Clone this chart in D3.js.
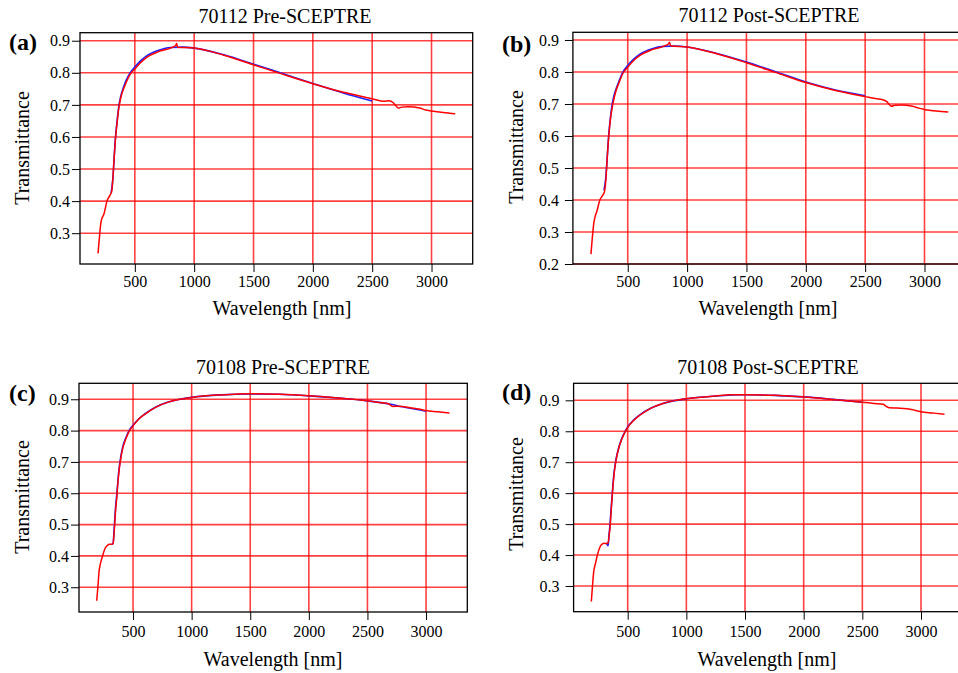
<!DOCTYPE html>
<html>
<head>
<meta charset="utf-8">
<script src="https://cdn.jsdelivr.net/npm/d3@7"></script>
<style>
body { margin: 0; background: #fff; }
svg text { font-family: "Liberation Serif", "Times New Roman", serif; fill: #000; }
</style>
</head>
<body>
<div id="fig"></div>
<script>
// ---- data ----
var xTicks = [500, 1000, 1500, 2000, 2500, 3000];
var yTicks37 = [0.3, 0.4, 0.5, 0.6, 0.7, 0.8, 0.9];
var yTicks27 = [0.2, 0.3, 0.4, 0.5, 0.6, 0.7, 0.8, 0.9];
var titles = ["70112 Pre-SCEPTRE", "70112 Post-SCEPTRE", "70108 Pre-SCEPTRE", "70108 Post-SCEPTRE"];
var letters = ["(a)", "(b)", "(c)", "(d)"];

// 70112 (a, b): red = full range, blue = up to 2500 nm
var wlRed70112 = [190,200,215,225,240,265,290,305,315,325,335,345,355,365,380,400,425,460,500,550,600,700,800,845,852,860,1000,1250,1500,1750,2000,2250,2500,2600,2640,2680,2700,2720,2750,2800,2900,2950,3000,3100,3200];
var redA = [0.237,0.28,0.335,0.348,0.36,0.40,0.418,0.43,0.47,0.53,0.585,0.625,0.66,0.69,0.72,0.745,0.768,0.795,0.812,0.832,0.848,0.866,0.877,0.886,0.891,0.880,0.877,0.855,0.825,0.795,0.766,0.740,0.719,0.711,0.713,0.706,0.697,0.690,0.693,0.694,0.690,0.684,0.681,0.676,0.672];
var redB = [0.231,0.275,0.33,0.348,0.365,0.40,0.415,0.428,0.46,0.52,0.575,0.62,0.655,0.68,0.71,0.74,0.765,0.796,0.815,0.836,0.851,0.869,0.880,0.888,0.893,0.882,0.878,0.857,0.829,0.798,0.767,0.742,0.723,0.716,0.714,0.708,0.700,0.693,0.696,0.697,0.693,0.687,0.683,0.678,0.675];
var wlBlue70112 = [300,315,325,335,345,355,365,380,400,425,460,500,550,600,700,800,900,1000,1250,1500,1750,2000,2250,2500];
var blueA = [0.425,0.47,0.53,0.59,0.63,0.665,0.695,0.725,0.75,0.775,0.80,0.818,0.838,0.853,0.870,0.879,0.880,0.877,0.856,0.827,0.797,0.767,0.738,0.712];
var blueB = [0.43,0.47,0.52,0.58,0.625,0.66,0.69,0.72,0.745,0.77,0.80,0.82,0.84,0.855,0.872,0.880,0.881,0.878,0.858,0.831,0.800,0.769,0.744,0.726];

// 70108 (c, d)
var wlRedC = [190,200,210,220,240,260,280,300,320,330,338,345,352,360,370,380,395,410,440,470,500,550,600,700,800,900,1000,1250,1500,1750,2000,2250,2500,2600,2680,2700,2720,2750,2800,2900,2950,3000,3100,3200];
var redC = [0.257,0.30,0.35,0.372,0.40,0.423,0.433,0.437,0.437,0.44,0.47,0.51,0.55,0.58,0.63,0.67,0.71,0.74,0.775,0.80,0.815,0.837,0.852,0.876,0.891,0.900,0.906,0.914,0.918,0.916,0.911,0.904,0.895,0.890,0.886,0.880,0.877,0.878,0.877,0.871,0.868,0.864,0.860,0.856];
var wlBlueC = [320,330,338,345,352,360,370,380,395,410,440,470,500,550,600,700,800,900,1000,1250,1500,1750,2000,2250,2500,2600,2700,2800,2900,3000];
var blueC = [0.437,0.44,0.48,0.52,0.56,0.59,0.635,0.675,0.715,0.745,0.778,0.802,0.817,0.838,0.853,0.876,0.891,0.900,0.906,0.914,0.917,0.916,0.911,0.904,0.895,0.890,0.884,0.876,0.869,0.862];
var wlRedD = [190,200,210,225,245,265,285,300,320,333,342,350,357,365,375,385,400,420,450,480,500,550,600,700,800,900,1000,1250,1375,1500,1750,2000,2250,2500,2600,2680,2700,2730,2800,2880,2920,3000,3100,3200];
var redD = [0.25,0.30,0.345,0.372,0.405,0.427,0.436,0.438,0.437,0.44,0.465,0.49,0.53,0.575,0.625,0.665,0.705,0.74,0.775,0.80,0.812,0.835,0.851,0.875,0.890,0.899,0.905,0.914,0.918,0.918,0.916,0.911,0.903,0.894,0.890,0.887,0.881,0.876,0.875,0.873,0.870,0.863,0.859,0.855];
var wlBlueD = [320,328,333,342,350,357,365,375,385,400,420,450,480,500,550,600,700,800,900,1000,1250,1500,1750,2000,2250,2500];
var blueD = [0.44,0.432,0.43,0.47,0.50,0.54,0.58,0.63,0.67,0.708,0.742,0.777,0.801,0.814,0.836,0.852,0.875,0.890,0.899,0.905,0.914,0.918,0.916,0.911,0.903,0.894];

// ---- layout per panel ----
var panels = [
  {red: [wlRed70112, redA], blue: [wlBlue70112, blueA], yTicks: yTicks37,
   box: [80, 472.7, 32.7, 264], xDom: [38, 3347], yDom: [0.204, 0.925],
   title: [285, 23], letter: [9, 50], ylab: [29, 148], xlab: [282, 315], yPad: 2, xPad: 4},
  {red: [wlRed70112, redB], blue: [wlBlue70112, blueB], yTicks: yTicks27,
   box: [572.9, 965.7, 32.3, 264], xDom: [38, 3347], yDom: [0.2, 0.924],
   title: [769, 22], letter: [502, 52], ylab: [523, 147], xlab: [768, 315], yPad: 6, xPad: 4},
  {red: [wlRedC, redC], blue: [wlBlueC, blueC], yTicks: yTicks37,
   box: [79, 467.3, 383.3, 612], xDom: [39, 3352], yDom: [0.221, 0.951],
   title: [283, 374], letter: [9, 401], ylab: [29, 497], xlab: [273, 666], yPad: 2, xPad: 6},
  {red: [wlRedD, redD], blue: [wlBlueD, blueD], yTicks: yTicks37,
   box: [573.6, 962.3, 383.3, 611.7], xDom: [39, 3352], yDom: [0.217, 0.955],
   title: [768, 374], letter: [502, 400], ylab: [523, 494], xlab: [767, 666], yPad: 6, xPad: 6}
];

var svg = d3.select("#fig").append("svg")
    .attr("width", 958)
    .attr("height", 673);

panels.forEach(function(p, k) {
  var left = p.box[0], right = p.box[1], top = p.box[2], bottom = p.box[3];
  var x = d3.scaleLinear().domain(p.xDom).range([left, right]);
  var y = d3.scaleLinear().domain(p.yDom).range([bottom, top]);
  var g = svg.append("g");

  // red grid
  g.selectAll(".vg").data(xTicks).enter().append("line")
    .attr("x1", d => x(d)).attr("x2", d => x(d))
    .attr("y1", top).attr("y2", bottom)
    .attr("stroke", "red").attr("stroke-opacity", 0.75).attr("stroke-width", 1.6);
  g.selectAll(".hg").data(p.yTicks).enter().append("line")
    .attr("x1", left).attr("x2", right)
    .attr("y1", d => y(d)).attr("y2", d => y(d))
    .attr("stroke", "red").attr("stroke-opacity", 0.75).attr("stroke-width", 1.6);

  var line = d3.line().x(d => x(d[0])).y(d => y(d[1])).curve(d3.curveMonotoneX);

  g.append("path").datum(d3.zip(p.blue[0], p.blue[1]))
    .attr("d", line).attr("fill", "none")
    .attr("stroke", "#2020ff").attr("stroke-width", 1.6);
  g.append("path").datum(d3.zip(p.red[0], p.red[1]))
    .attr("d", line).attr("fill", "none")
    .attr("stroke", "#ff0000").attr("stroke-width", 1.5);

  // axes
  var xa = g.append("g").attr("transform", "translate(0," + bottom + ")")
    .call(d3.axisBottom(x).tickValues(xTicks).tickSize(8).tickPadding(p.xPad).tickFormat(d3.format("d")));
  var ya = g.append("g").attr("transform", "translate(" + left + ",0)")
    .call(d3.axisLeft(y).tickValues(p.yTicks).tickSize(8).tickPadding(p.yPad).tickFormat(d3.format(".1f")));
  [xa, ya].forEach(function(a) {
    a.select(".domain").remove();
    a.selectAll("line").attr("stroke", "#000").attr("stroke-width", 1);
    a.selectAll("text").attr("font-size", 16).attr("font-family", null);
  });

  g.append("rect")
    .attr("x", left).attr("y", top)
    .attr("width", right - left).attr("height", bottom - top)
    .attr("fill", "none").attr("stroke", "#000").attr("stroke-width", 1.3);

  g.append("text").attr("x", p.title[0]).attr("y", p.title[1])
    .attr("text-anchor", "middle").attr("font-size", 20).text(titles[k]);
  g.append("text").attr("x", p.letter[0]).attr("y", p.letter[1])
    .attr("font-size", 24).attr("font-weight", "bold").text(letters[k]);
  g.append("text").attr("x", p.xlab[0]).attr("y", p.xlab[1])
    .attr("text-anchor", "middle").attr("font-size", 20).text("Wavelength [nm]");
  g.append("text")
    .attr("transform", "translate(" + p.ylab[0] + "," + p.ylab[1] + ") rotate(-90)")
    .attr("text-anchor", "middle").attr("font-size", 20).text("Transmittance");
});
</script>
</body>
</html>
